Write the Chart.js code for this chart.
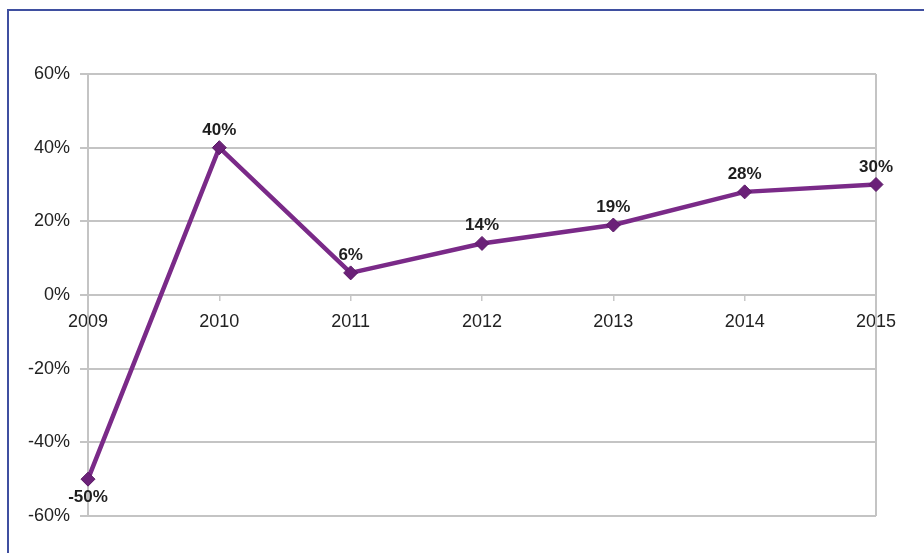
<!DOCTYPE html>
<html>
<head>
<meta charset="utf-8">
<script src="https://cdn.jsdelivr.net/npm/chart.js@4/dist/chart.umd.min.js"></script>
<style>
  html, body { margin: 0; padding: 0; background: #fff; }
  #frame {
    position: absolute; left: 7px; top: 9px; width: 917px; height: 544px;
    border-top: 2px solid #3f4fa0; border-left: 2px solid #3f4fa0;
    box-sizing: border-box;
  }
  #wrap { position: absolute; left: 0; top: 0; width: 924px; height: 553px; }
</style>
</head>
<body>
<div id="frame"></div>
<div id="wrap"><canvas id="lineChart" width="924" height="553"></canvas></div>
<script>
let years = ["2009", "2010", "2011", "2012", "2013", "2014", "2015"];
let growth = [-50, 40, 6, 14, 19, 28, 30];
let yTicks = [-60, -40, -20, 0, 20, 40, 60];

const pointLabels = {
    id: "pointLabels",
    afterDatasetsDraw(chart) {
        const ctx = chart.ctx;
        const meta = chart.getDatasetMeta(0);
        ctx.save();
        ctx.font = "bold 17px 'Liberation Sans', Arial, sans-serif";
        ctx.fillStyle = "#1e1e1e";
        ctx.textAlign = "center";
        meta.data.forEach(function (pt, i) {
            const v = growth[i];
            if (v < 0) {
                ctx.textBaseline = "top";
                ctx.fillText(v + "%", pt.x, pt.y + 10);
            } else {
                ctx.textBaseline = "alphabetic";
                ctx.fillText(v + "%", pt.x, pt.y - 13);
            }
        });
        ctx.restore();
    }
};

const plotBorder = {
    id: "plotBorder",
    beforeDatasetsDraw(chart) {
        const a = chart.chartArea;
        const ctx = chart.ctx;
        ctx.save();
        ctx.strokeStyle = "#c4c4c4";
        ctx.lineWidth = 2;
        ctx.beginPath();
        ctx.moveTo(a.right, a.top);
        ctx.lineTo(a.right, a.bottom);
        ctx.stroke();
        ctx.restore();
    }
};

document.addEventListener("DOMContentLoaded", function () {
    const ctx = document.getElementById("lineChart").getContext("2d");
    new Chart(ctx, {
        type: "line",
        data: {
            labels: years,
            datasets: [{
                data: growth,
                borderColor: "#7a2a88",
                borderWidth: 4.5,
                pointStyle: "rectRot",
                pointRadius: 7,
                pointBackgroundColor: "#6b2178",
                pointBorderColor: "#5a1a66",
                pointBorderWidth: 1,
                tension: 0,
                fill: false
            }]
        },
        options: {
            responsive: false,
            animation: false,
            layout: { padding: { left: 0, right: 48, top: 74, bottom: 37 } },
            plugins: { legend: { display: false }, tooltip: { enabled: false } },
            scales: {
                x: {
                    type: "category",
                    offset: false,
                    position: { y: 0 },
                    grid: { display: true, drawOnChartArea: false, drawTicks: true, tickLength: 6, color: "#c8c8c8", lineWidth: 1.5 },
                    border: { display: false },
                    ticks: {
                        color: "#222",
                        font: { size: 18, family: "'Liberation Sans', Arial, sans-serif" },
                        padding: 10,
                        maxRotation: 0
                    }
                },
                y: {
                    min: -60,
                    max: 60,
                    afterBuildTicks(scale) {
                        scale.ticks = yTicks.map(function (v) { return { value: v }; });
                    },
                    afterFit(scale) { scale.width = 88; },
                    grid: { color: "#c4c4c4", lineWidth: 2, tickLength: 8 },
                    border: { color: "#c4c4c4", width: 2 },
                    ticks: {
                        color: "#222",
                        font: { size: 18, family: "'Liberation Sans', Arial, sans-serif" },
                        padding: 10,
                        callback: function (v) { return v + "%"; }
                    }
                }
            }
        },
        plugins: [plotBorder, pointLabels]
    });
});
</script>
</body>
</html>
